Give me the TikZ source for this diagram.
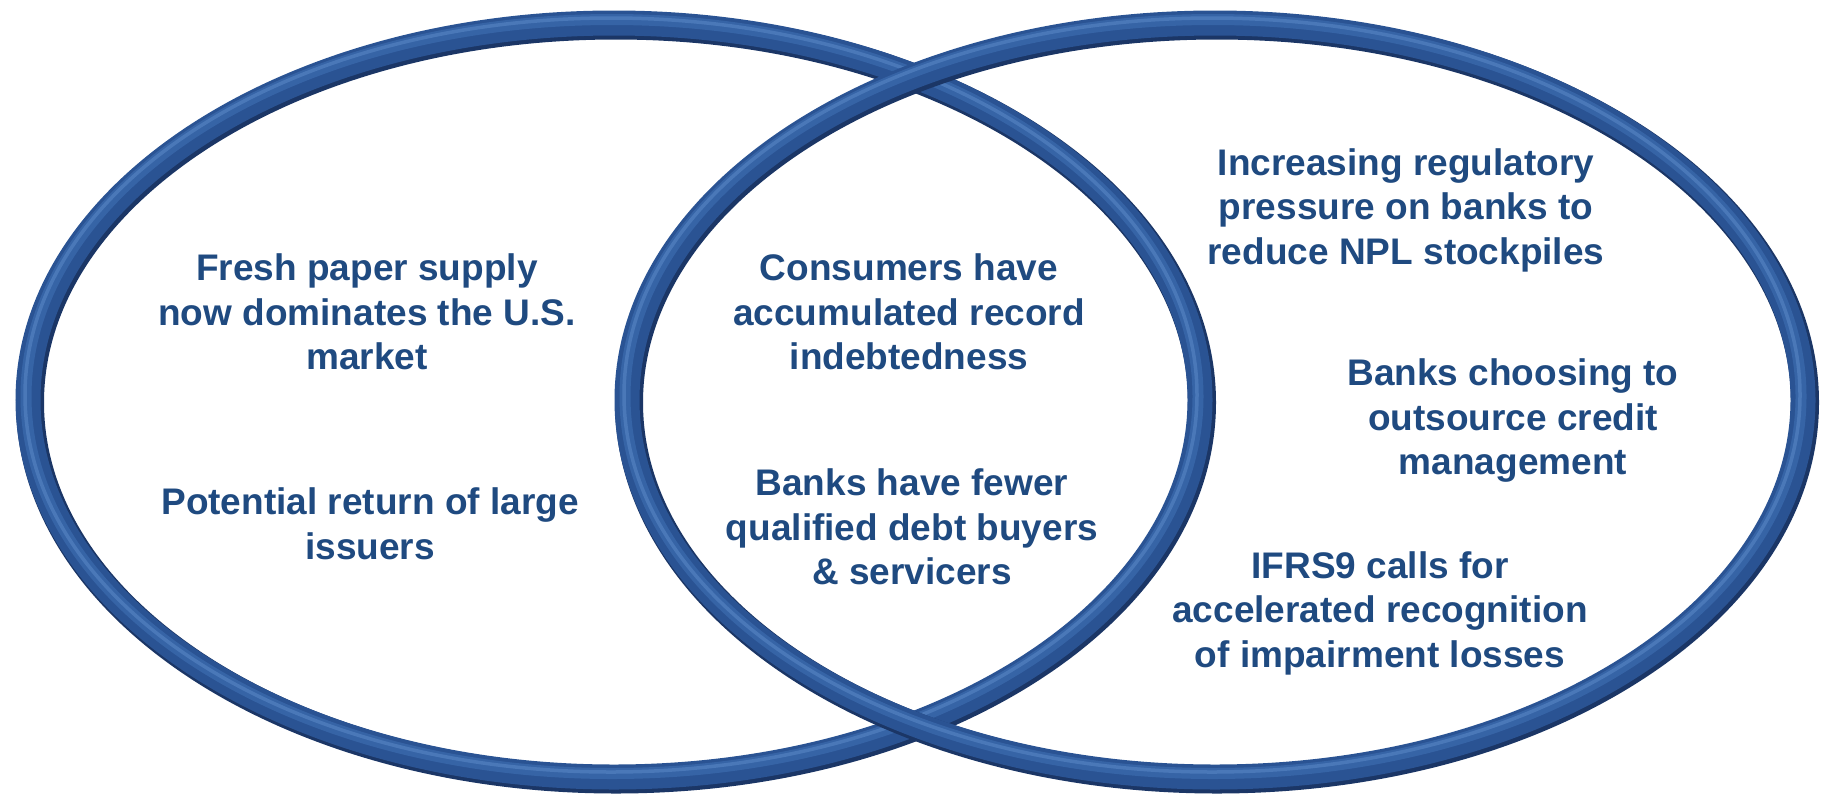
\documentclass[tikz,border=0pt]{standalone}
\usepackage{fontspec}
\setmainfont{Liberation Sans}
\definecolor{txtblue}{HTML}{1F4A80}
\definecolor{ringedge}{HTML}{1B3666}
\definecolor{ringmain}{HTML}{2A5393}
\definecolor{ringmid}{HTML}{3967AA}
\definecolor{ringhi}{HTML}{5E8CCB}
\tikzset{
  lbl/.style={align=center, text=txtblue, font=\fontsize{37}{44.5}\selectfont\bfseries, inner sep=0pt},
  ringA/.style={draw=ringedge, line width=28pt},
  ringB/.style={draw=ringmain, line width=25pt},
  ringC/.style={draw=ringmid, line width=11pt, opacity=0.85},
  ringD/.style={draw=ringhi, line width=3.5pt, opacity=0.5},
}
\newcommand{\ringellipse}[3]{%
  \draw[ringA] (#1+2,#2+2.5) ellipse [x radius=#3, y radius=377];
  \draw[ringB] (#1,#2) ellipse [x radius=#3, y radius=377];
  \draw[ringC] (#1-2,#2-3.5) ellipse [x radius=#3, y radius=377];
  \draw[ringD] (#1-3,#2-5) ellipse [x radius=#3, y radius=377];
}
\begin{document}
\begin{tikzpicture}[x=1pt, y=-1pt]
\useasboundingbox (0,0) rectangle (1825,801);
\fill[white] (0,0) rectangle (1825,801);
% rings: left first, right on top
\ringellipse{614}{400}{586}
\ringellipse{1215}{400}{588}
% labels
\node[lbl] (fresh) at (367,312) {Fresh paper supply\\now dominates the U.S.\\market};
\node[lbl] (issuers) at (370,524) {Potential return of large\\issuers};
\node[lbl] (consumers) at (909,312) {Consumers have\\accumulated record\\indebtedness};
\node[lbl] (fewer) at (912,527) {Banks have fewer\\qualified debt buyers\\\& servicers};
\node[lbl] (regul) at (1406,210) {Increasing regulatory\\pressure on banks to\\reduce NPL stockpiles};
\node[lbl] (outsrc) at (1513,421) {Banks choosing to\\outsource credit\\management};
\node[lbl] (ifrs) at (1380,613) {IFRS9 calls for\\accelerated recognition\\of impairment losses};
\end{tikzpicture}
\end{document}
